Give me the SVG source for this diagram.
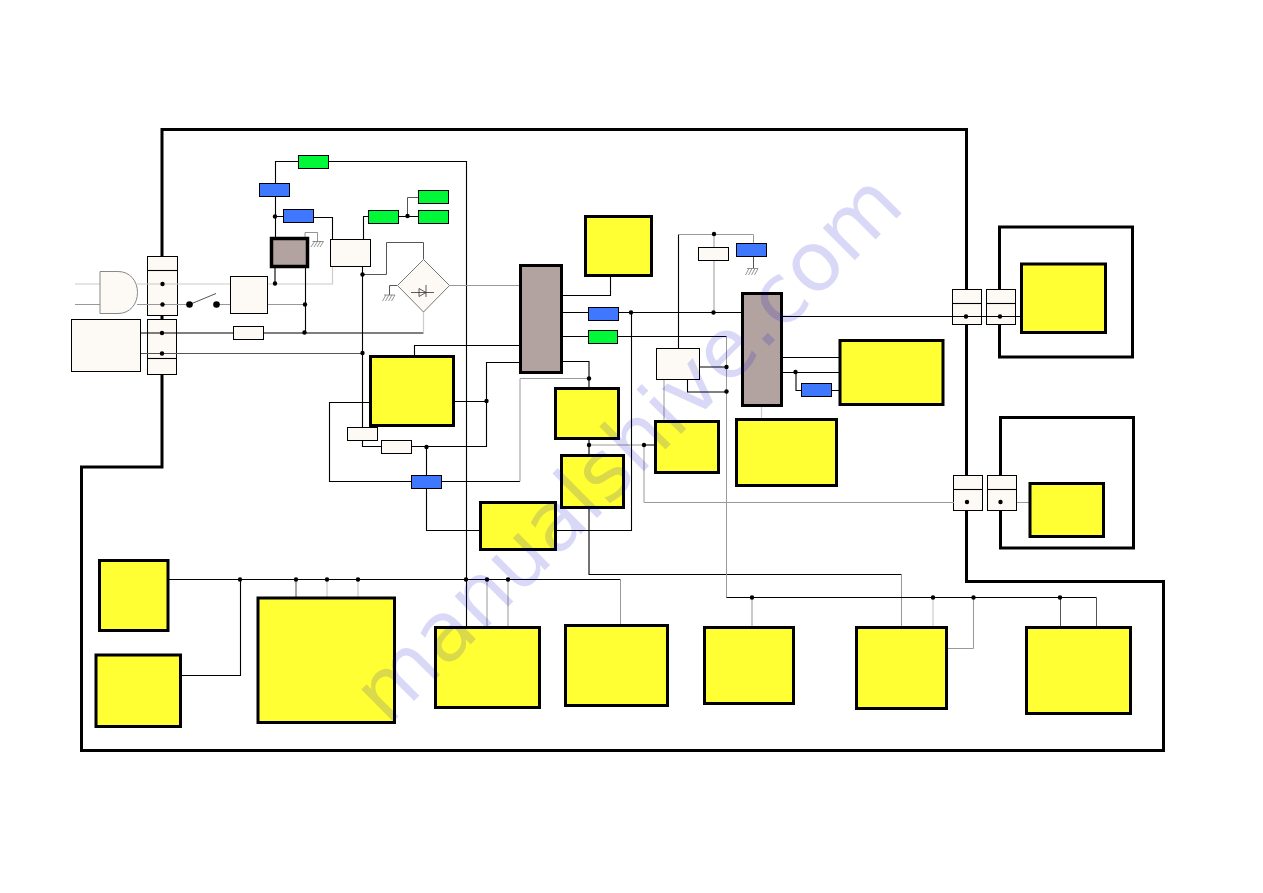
<svg xmlns="http://www.w3.org/2000/svg" width="1263" height="893" viewBox="0 0 1263 893">
<style>
.frame{fill:none;stroke:#000;stroke-width:3}
.w{fill:#fdf9f5;stroke:#000;stroke-width:1}
.b{fill:#3f78ff;stroke:#000;stroke-width:1}
.g{fill:#00f838;stroke:#000;stroke-width:1}
.y{fill:#ffff33;stroke:#000;stroke-width:3}
.s{fill:#b3a3a0;stroke:#000;stroke-width:3}
.k,.m,.l,.t{fill:none}
.k{stroke:#000;stroke-width:1.1}
.d{stroke:#555;stroke-width:1;fill:none}
.m{stroke:#999;stroke-width:1}
.l{stroke:#ccc;stroke-width:1.2}
.t{stroke:#666;stroke-width:.7}
.dot{fill:#000}
.wm{font-family:"DejaVu Sans",sans-serif;font-size:83px;fill:#0000c8;fill-opacity:.15}
</style>
<rect width="1263" height="893" fill="#fff"/>
<path id="frame-main" class="frame" d="M162 129.500H966.500V581.500H1163.500V750.500H81.500V467H162Z"/>
<rect id="frame-upper" class="frame" x="999.500" y="227" width="133" height="130"/>
<rect id="frame-lower" class="frame" x="1000.500" y="417.500" width="133" height="130.500"/>
<g id="term-a"><rect class="w" x="147.500" y="256.500" width="30" height="59"/><path class="k" d="M147.500 270.500H177.500"/></g>
<g id="term-b"><rect class="w" x="147.500" y="319.500" width="29" height="55"/><path class="k" d="M147.500 358.500H176.500"/></g>
<g id="term-c"><rect class="w" x="952.500" y="289.500" width="29" height="35"/><path class="k" d="M952.500 303.500H981.500"/></g>
<g id="term-d"><rect class="w" x="986.500" y="289.500" width="29" height="35"/><path class="k" d="M986.500 303.500H1015.500"/></g>
<g id="term-e"><rect class="w" x="953.500" y="475.500" width="29" height="35"/><path class="k" d="M953.500 489.500H982.500"/></g>
<g id="term-f"><rect class="w" x="987.500" y="475.500" width="29" height="35"/><path class="k" d="M987.500 489.500H1016.500"/></g>
<g id="connectors">
<path class="l" d="M75 284H100M137 284H230M267 284H332.500V239"/>
<path class="m" d="M75 304.500H100M137 304.500H189M217 304.500H230M268 304.500H305"/>
<path class="k" d="M275.500 237V161.500H466.500V627M275.500 216.500H283M313.500 217.500H332.500V239M275 267V283.500"/>
<path class="k" d="M305.500 267V333M140.500 333H233M263.500 333H423.500"/>
<path class="l" d="M423.500 312V333"/>
<path class="d" d="M140.500 353.500H362"/>
<path class="k" d="M363.500 239V216.500H368M398.500 216.500H418M362.500 267V427M362.500 440V446.500H381"/>
<path class="d" d="M407.500 216.500V197.500H418"/>
<path class="d" d="M362.500 274.500H386.500V242.500H423.500V259"/>
<path class="m" d="M449.500 285.500H519"/>
<path class="d" d="M397 285.500H389.500V295"/>
<path class="k" d="M414.500 355V345.500H519M519 362.500H486.500V446.500H411.500M454 401.500H486.500M426.500 447V475M369 402.500H329.500V481.500H411M426.500 488V530.500H479M441.500 481.500H520"/>
<path class="m" d="M520 481.500V378.500H589"/>
<path class="k" d="M562 361.500H589V387M589 439V454M589 508V574.500H901.500"/>
<path class="m" d="M901.500 574.500V626M589 445H644V502.500H954M1017 502.500H1030"/>
<path class="k" d="M644 445H654M556 530.500H631.500V312.500M562 312.500H741M610.500 276V295.500H562M562 336.500H726.500"/>
<path class="m" d="M726.500 336.500V597.500"/>
<path class="k" d="M699 367H726.500M687.500 380V392H726.500M678.500 348V234.500"/>
<path class="m" d="M664 380V420"/>
<path class="m" d="M678.500 234.500H753.500V243M714 234.500V247M714 261V312.500"/>
<path class="d" d="M753.500 257V268"/>
<path class="l" d="M761.500 406V418"/>
<path class="k" d="M782 316.500H1020M782 357.500H839M782 372.500H839M796 372.500V390.500H801M832 390.500H839"/>
<path class="k" d="M169 579.500H620.500M181 675.500H240.500V579.500M726.500 597.500H1096.500"/>
<path class="m" d="M620.500 579.500V625M487 579.500V627M508 579.500V627M752 597.500V626M973.500 597.500V648.500H947"/>
<path class="d" d="M296 579.500V597M1060.500 597.500V626M1096.500 597.500V626"/>
<path class="l" d="M327 579.500V597M358 579.500V597M933 597.500V626"/>
<path class="t" d="M305 237V232.500H317.500V241.500M312.500 241.500H323.500M314.500 241.500L311 247M317.500 241.500L314 247M320.500 241.500L317 247M323.500 241.500L320 247"/>
<path class="t" d="M384 295H395M386 295L382.500 301M389 295L385.500 301M392 295L388.500 301M395 295L391.500 301"/>
<path class="t" d="M747 268.500H758M749 268.500L745.500 275M752 268.500L748.500 275M755 268.500L751.500 275M758 268.500L754.500 275"/>
<path class="d" d="M189.500 304.500L216 293.500"/>
<g class="dot">
<circle cx="189.500" cy="304.500" r="3.300"/><circle cx="216.500" cy="304.500" r="3.300"/>
<circle cx="162.500" cy="284" r="2.200"/><circle cx="162.500" cy="304.500" r="2.200"/><circle cx="162" cy="333" r="2.200"/><circle cx="162" cy="353.500" r="2.200"/>
<circle cx="275" cy="283.500" r="2.200"/><circle cx="305" cy="304.500" r="2.200"/><circle cx="304.500" cy="332.500" r="2.200"/><circle cx="275" cy="216.500" r="2.200"/>
<circle cx="407.500" cy="216" r="2.200"/><circle cx="362.500" cy="274.500" r="2.200"/><circle cx="362.500" cy="353" r="2.200"/>
<circle cx="486.500" cy="401" r="2.200"/><circle cx="426.500" cy="447" r="2.200"/><circle cx="589" cy="378.500" r="2.200"/><circle cx="589" cy="445" r="2.200"/><circle cx="644" cy="445" r="2.200"/>
<circle cx="631" cy="312.500" r="2.200"/><circle cx="713.500" cy="312.500" r="2.200"/><circle cx="714" cy="234" r="2.200"/><circle cx="726.500" cy="367" r="2.200"/><circle cx="726.500" cy="391.500" r="2.200"/><circle cx="795.500" cy="372" r="2.200"/>
<circle cx="966" cy="316.500" r="2.200"/><circle cx="1000" cy="316.500" r="2.200"/><circle cx="967" cy="502" r="2.200"/><circle cx="1000.500" cy="502" r="2.200"/>
<circle cx="240" cy="579.500" r="2.200"/><circle cx="296" cy="579.500" r="2.200"/><circle cx="327" cy="579.500" r="2.200"/><circle cx="358" cy="579.500" r="2.200"/><circle cx="466" cy="579.500" r="2.200"/><circle cx="487" cy="579.500" r="2.200"/><circle cx="508" cy="579.500" r="2.200"/>
<circle cx="752" cy="597.500" r="2.200"/><circle cx="933" cy="597.500" r="2.200"/><circle cx="973.500" cy="597.500" r="2.200"/><circle cx="1060" cy="597.500" r="2.200"/>
</g>
</g>
<path id="plug" d="M100 271.500H118C130 271.500 137.500 281 137.500 292.500S130 313.500 118 313.500H100Z" fill="#fdf9f5" stroke="#888" stroke-width="1"/>
<rect id="inlet" class="w" x="71.500" y="319.500" width="69" height="52"/>
<rect id="fuse-box" class="w" x="230.500" y="276.500" width="37" height="37"/>
<rect id="r1" class="w" x="233.500" y="326.500" width="30" height="13"/>
<rect id="g1" class="g" x="298.500" y="155.500" width="30" height="13"/>
<rect id="b1" class="b" x="259.500" y="183.500" width="30" height="13"/>
<rect id="b2" class="b" x="283.500" y="209.500" width="30" height="13"/>
<rect id="ic1" class="s" x="271.500" y="238.500" width="36" height="28" style="stroke-width:3.500"/>
<rect id="w1" class="w" x="330.500" y="239.500" width="40" height="27"/>
<rect id="g2" class="g" x="368.500" y="210.500" width="30" height="13"/>
<rect id="g3" class="g" x="418.500" y="190.500" width="30" height="13"/>
<rect id="g4" class="g" x="418.500" y="210.500" width="30" height="13"/>
<g id="bridge"><path d="M423.500 259.500L449.500 285.500L423.500 312L397.500 285.500Z" fill="#fdf9f5" stroke="#777" stroke-width="1"/><path d="M411 292.500H434M426 285V297M419 288.500V296.500L426 292.500Z" fill="none" stroke="#333" stroke-width=".8"/></g>
<rect id="ic2" class="s" x="520.500" y="265.500" width="41" height="107"/>
<rect id="y1" class="y" x="585.500" y="216.500" width="66" height="59"/>
<rect id="b3" class="b" x="588.500" y="307.500" width="30" height="13"/>
<rect id="g5" class="g" x="588.500" y="330.500" width="29" height="13"/>
<rect id="w2" class="w" x="698.500" y="247.500" width="30" height="13"/>
<rect id="b4" class="b" x="736.500" y="243.500" width="30" height="13"/>
<rect id="ic3" class="s" x="742.500" y="293.500" width="39" height="112"/>
<rect id="w3" class="w" x="656.500" y="348.500" width="43" height="31"/>
<rect id="b5" class="b" x="801.500" y="383.500" width="30" height="13"/>
<rect id="y2" class="y" x="840" y="340.500" width="103" height="64"/>
<rect id="y3" class="y" x="736.500" y="419.500" width="100" height="66"/>
<rect id="y4" class="y" x="655.500" y="421.500" width="63" height="51"/>
<rect id="y5" class="y" x="555.500" y="388.500" width="63" height="50"/>
<rect id="y6" class="y" x="561.500" y="455.500" width="62" height="52"/>
<rect id="y7" class="y" x="480.500" y="502.500" width="75" height="47"/>
<rect id="b6" class="b" x="411.500" y="475.500" width="30" height="13"/>
<rect id="w4" class="w" x="347.500" y="427.500" width="30" height="13"/>
<rect id="w5" class="w" x="381.500" y="440.500" width="30" height="13"/>
<rect id="y8" class="y" x="370.500" y="356.500" width="83" height="69"/>
<rect id="y9" class="y" x="99.500" y="560.500" width="68.500" height="70"/>
<rect id="y10" class="y" x="96" y="655" width="84.500" height="71.500"/>
<rect id="y11" class="y" x="258" y="598" width="136.500" height="124.500"/>
<rect id="y12" class="y" x="435.500" y="627.500" width="104" height="80"/>
<rect id="y13" class="y" x="565.500" y="625.500" width="102" height="80"/>
<rect id="y14" class="y" x="704.500" y="627.500" width="89" height="76"/>
<rect id="y15" class="y" x="856.500" y="627.500" width="90" height="81"/>
<rect id="y16" class="y" x="1026.500" y="627.500" width="104" height="86"/>
<rect id="y17" class="y" x="1021.500" y="264" width="84" height="68.500"/>
<rect id="y18" class="y" x="1030" y="483.500" width="73.500" height="53"/>
<text class="wm" transform="translate(388 727) rotate(-45)">manualshive.com</text>
</svg>
